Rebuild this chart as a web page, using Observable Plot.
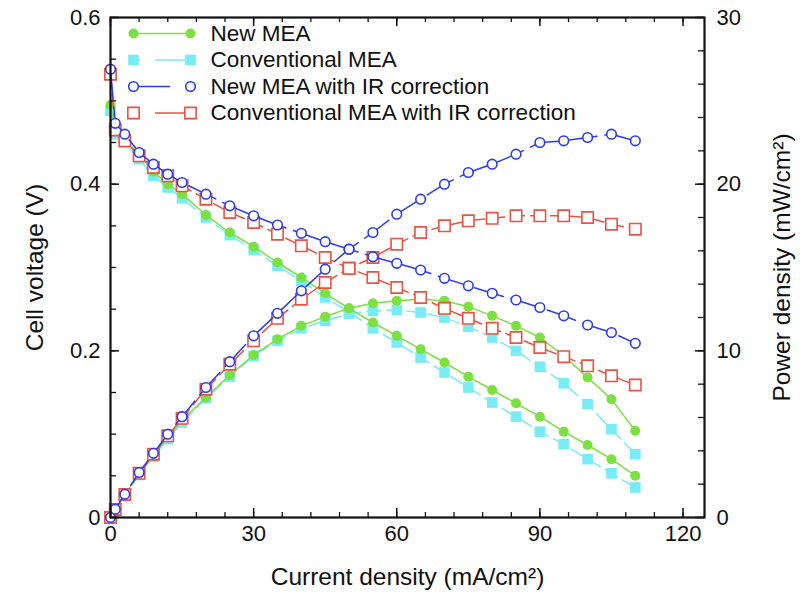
<!DOCTYPE html>
<html><head><meta charset="utf-8">
<script src="https://cdn.jsdelivr.net/npm/d3@7"></script>
<script src="https://cdn.jsdelivr.net/npm/@observablehq/plot@0.6"></script>
<style>body{margin:0;background:#fff}</style>
</head><body><div id="chart"></div>
<script>
// ---- data ----
const current = [0,1,3,6,9,12,15,20,25,30,35,40,45,50,55,60,65,70,75,80,85,90,95,100,105,110];
const seriesNames = ["New MEA","Conventional MEA","New MEA with IR correction","Conventional MEA with IR correction"];
const voltageNew    = [0.495,0.465,0.455,0.435,0.415,0.400,0.388,0.363,0.342,0.325,0.306,0.288,0.269,0.251,0.234,0.218,0.202,0.186,0.169,0.153,0.137,0.121,0.103,0.087,0.070,0.050];
const voltageConv   = [0.488,0.460,0.450,0.430,0.410,0.396,0.383,0.360,0.339,0.321,0.302,0.284,0.264,0.2465,0.227,0.210,0.192,0.174,0.156,0.138,0.121,0.103,0.088,0.070,0.053,0.036];
const voltageNewIR  = [0.538,0.473,0.460,0.438,0.424,0.412,0.402,0.388,0.374,0.362,0.351,0.341,0.331,0.322,0.313,0.305,0.297,0.287,0.278,0.269,0.261,0.252,0.242,0.231,0.222,0.209];
const voltageConvIR = [0.532,0.465,0.452,0.434,0.420,0.410,0.398,0.382,0.366,0.354,0.340,0.326,0.312,0.299,0.288,0.276,0.264,0.251,0.239,0.227,0.216,0.204,0.193,0.182,0.170,0.159];
const powerNew      = [0,0.46,1.36,2.60,3.73,4.82,5.85,7.20,8.55,9.75,10.7,11.5,12.05,12.56,12.85,13.0,13.1,13.0,12.65,12.1,11.5,10.8,9.7,8.4,7.1,5.2];
const powerConv     = [0,0.46,1.34,2.55,3.65,4.70,5.70,7.15,8.45,9.70,10.6,11.35,11.8,12.23,12.4,12.45,12.3,12.0,11.45,10.8,10.0,9.05,8.05,6.8,5.3,3.8];
const powerNewIR    = [0,0.50,1.40,2.70,3.85,5.00,6.05,7.80,9.35,10.9,12.25,13.6,14.9,16.1,17.1,18.2,19.1,20.0,20.7,21.2,21.8,22.5,22.6,22.8,23.0,22.6];
const powerConvIR   = [0,0.48,1.38,2.65,3.80,4.90,5.95,7.70,9.20,10.6,11.95,13.1,14.1,14.95,15.6,16.4,17.1,17.5,17.8,17.95,18.1,18.1,18.1,18.0,17.6,17.3];
const xTicks = [0,30,60,90,120];
const yTicks = [0,0.2,0.4,0.6];
const yTickLabels = ["0","0.2","0.4","0.6"];
const powerTicks = [0,10,20,30];
const xLabel = "Current density (mA/cm\u00B2)";
const yLabel = "Cell voltage (V)";
const y2Label = "Power density (mW/cm\u00B2)";

// ---- styling ----
const styles = [
  {color:"#7be040", symbol:"circle", filled:true,  dash:null,    r:5.0},
  {color:"#78ecf4", symbol:"square", filled:true,  dash:"14,6",  r:6.0},
  {color:"#2b3cf2", symbol:"circle", filled:false, dash:"30,8",  r:4.8},
  {color:"#ec5241", symbol:"square", filled:false, dash:"14,6",  r:6.4}
];
const legendDash = [null, "6,16,40", "36,20", "6,16,40"];
const voltages = [voltageNew, voltageConv, voltageNewIR, voltageConvIR];
const powers = [powerNew, powerConv, powerNewIR, powerConvIR];
const xMax = 124.5, yMax = 0.6, pMax = 30;
const k = yMax / pMax; // power mapped onto voltage scale
const W = 803, H = 598, mL = 110, mR = 99, mT = 17, mB = 81;
const plotW = W - mL - mR, plotH = H - mT - mB;

const marks = [];
for (const i of [1,0,3,2]) {
  const s = styles[i];
  const vRows = current.map((I, j) => ({I, y: voltages[i][j]}));
  const pRows = current.map((I, j) => ({I, y: powers[i][j] * k}));
  for (const rows of [vRows, pRows]) {
    marks.push(Plot.line(rows, {x: "I", y: "y", stroke: s.color, strokeWidth: 1.5, strokeDasharray: s.dash}));
  }
  marks.push(Plot.dot(vRows.concat(pRows), {x: "I", y: "y", symbol: s.symbol, r: s.r,
    fill: s.filled ? s.color : "white", stroke: s.color, strokeWidth: s.filled ? 0 : 1.6}));
}

// ticks (inward)
const xMinor = d3.range(0, xMax, 6);
const yMinor = d3.range(0, 0.6001, 0.05);
const pMinor = d3.range(0, 30.001, 2).map(p => p * k);
const pMajor = powerTicks.map(p => p * k);
marks.push(
  Plot.tickX(xMinor, {x: d => d, insetTop: plotH - 5, strokeWidth: 1.3}),
  Plot.tickX(xTicks, {x: d => d, insetTop: plotH - 9, strokeWidth: 1.5}),
  Plot.tickX(xMinor, {x: d => d, insetBottom: plotH - 5, strokeWidth: 1.3}),
  Plot.tickX(xTicks, {x: d => d, insetBottom: plotH - 9, strokeWidth: 1.5}),
  Plot.tickY(yMinor, {y: d => d, insetRight: plotW - 6, strokeWidth: 1.3}),
  Plot.tickY(yTicks, {y: d => d, insetRight: plotW - 9, strokeWidth: 1.5}),
  Plot.tickY(pMinor, {y: d => d, insetLeft: plotW - 6, strokeWidth: 1.3}),
  Plot.tickY(pMajor, {y: d => d, insetLeft: plotW - 9, strokeWidth: 1.5}),
  Plot.frame({strokeWidth: 2.2}),
  Plot.axisX({ticks: xTicks, tickSize: 0, tickPadding: 8, label: null, fontSize: 22}),
  Plot.axisY({ticks: yTicks, tickSize: 0, tickPadding: 10, label: null, fontSize: 22,
    tickFormat: d => yTickLabels[yTicks.indexOf(d)]}),
  Plot.axisY({anchor: "right", ticks: pMajor, tickSize: 0, tickPadding: 12, label: null, fontSize: 22,
    tickFormat: d => String(powerTicks[pMajor.indexOf(d)])}),
  Plot.text([xLabel], {text: d => d, frameAnchor: "bottom", dy: 60, textAnchor: "middle", lineAnchor: "middle", fontSize: 24.5, fill: "#111"}),
  Plot.text([yLabel], {text: d => d, frameAnchor: "left", dx: -75, rotate: -90, textAnchor: "middle", lineAnchor: "middle", fontSize: 24.5, fill: "#111"}),
  Plot.text([y2Label], {text: d => d, frameAnchor: "right", dx: 78, rotate: -90, textAnchor: "middle", lineAnchor: "middle", fontSize: 24.5, fill: "#111"})
);

// legend
seriesNames.forEach((name, i) => {
  const s = styles[i];
  const dy = 16 + 26.5 * i;
  marks.push(
    Plot.vector([name], {frameAnchor: "top-left", dx: 23, dy, rotate: 90, length: 57, anchor: "start",
      stroke: s.color, strokeWidth: 1.5, strokeDasharray: legendDash[i],
      shape: {draw(ctx, l) { ctx.moveTo(0, 0); ctx.lineTo(0, -l); }}}),
    Plot.dot([name], {frameAnchor: "top-left", dx: 23, dy, symbol: s.symbol, r: s.r,
      fill: s.filled ? s.color : "white", stroke: s.color, strokeWidth: s.filled ? 0 : 1.6}),
    Plot.dot([name], {frameAnchor: "top-left", dx: 80, dy, symbol: s.symbol, r: s.r,
      fill: s.filled ? s.color : "white", stroke: s.color, strokeWidth: s.filled ? 0 : 1.6}),
    Plot.text([name], {text: d => d, frameAnchor: "top-left", dx: 100, dy, textAnchor: "start", lineAnchor: "middle", fontSize: 22.5, fill: "#111"})
  );
});

const chart = Plot.plot({
  width: W, height: H,
  marginLeft: mL, marginRight: mR, marginTop: mT, marginBottom: mB,
  style: {fontFamily: "'Liberation Sans', Arial, sans-serif", fontSize: "20px", background: "white", color: "#111"},
  x: {domain: [0, xMax], axis: null},
  y: {domain: [0, yMax], axis: null},
  marks
});
document.getElementById("chart").appendChild(chart);
</script>
</body></html>
